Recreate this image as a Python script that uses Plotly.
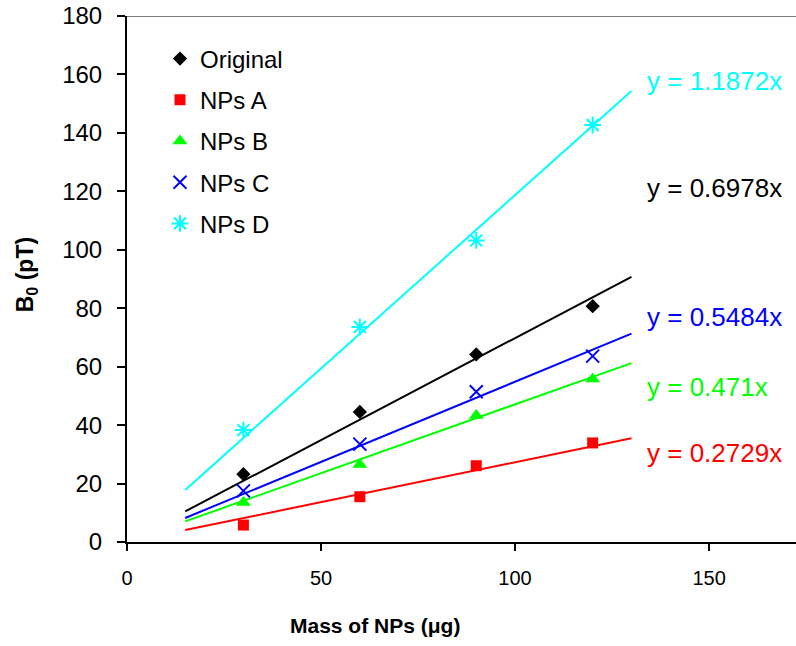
import plotly.graph_objects as go

mass = [30, 60, 90, 120]
series_names = ["Original", "NPs A", "NPs B", "NPs C", "NPs D"]
original = [23.2, 44.5, 64.2, 80.7]
nps_a = [5.8, 15.5, 26.1, 33.9]
nps_b = [13.5, 26.5, 43.3, 55.8]
nps_c = [17.5, 33.5, 51.4, 63.6]
nps_d = [38.3, 73.6, 103.2, 142.7]
slopes = [0.6978, 0.2729, 0.471, 0.5484, 1.1872]
fit_x = [15, 130]
x_ticks = [0, 50, 100, 150]
y_ticks = [0, 20, 40, 60, 80, 100, 120, 140, 160, 180]

values = [original, nps_a, nps_b, nps_c, nps_d]
colors = ["#000000", "#FF0000", "#00FF00", "#0000FF", "#00FFFF"]
symbols = ["diamond", "square", "triangle-up", "x-thin-open", "asterisk-open"]
sizes = [11, 11, 13, 13, 14]
eq_y = [121.0, 30.4, 53.0, 76.9, 157.9]

fig = go.Figure()
for name, vals, col, sym, sz, k in zip(series_names, values, colors, symbols, sizes, slopes):
    fig.add_trace(go.Scatter(
        x=fit_x, y=[k * v for v in fit_x], mode="lines",
        line=dict(color=col, width=2), showlegend=False, hoverinfo="skip",
        legendgroup=name))
for name, vals, col, sym, sz in zip(series_names, values, colors, symbols, sizes):
    fig.add_trace(go.Scatter(
        x=mass, y=vals, mode="markers", name=name, legendgroup=name,
        marker=dict(symbol=sym, size=sz, color=col,
                    line=dict(color=col, width=2 if "open" in sym else 0))))

for k, col, yy in zip(slopes, colors, eq_y):
    fig.add_annotation(x=133.5, y=yy, xref="x", yref="y", text=f"y = {k}x",
                       showarrow=False, xanchor="left", yanchor="middle",
                       font=dict(family="Liberation Sans, Arial", size=26, color=col))

fig.add_annotation(x=(375 - 127) / 669, y=-0.158, xref="paper", yref="paper",
                   text="<b>Mass of NPs (μg)</b>", showarrow=False,
                   xanchor="center", yanchor="middle",
                   font=dict(family="Liberation Sans, Arial", size=21, color="black"))
fig.add_annotation(x=(26 - 127) / 669, y=1 - (275 - 15.5) / 526.5, xref="paper", yref="paper",
                   text="<b>B<sub>0</sub> (pT)</b>", showarrow=False, textangle=-90,
                   xanchor="center", yanchor="middle",
                   font=dict(family="Liberation Sans, Arial", size=23, color="black"))

fig.add_shape(type="line", xref="paper", yref="y", x0=0, x1=1, y0=180, y1=180,
              line=dict(color="#555555", width=1.5))

fig.update_layout(
    width=796, height=646,
    margin=dict(l=127, r=0, t=15.5, b=104),
    paper_bgcolor="white", plot_bgcolor="white",
    font=dict(family="Liberation Sans, Arial", color="black"),
    showlegend=True,
    legend=dict(x=(160 - 127) / 669, y=1 - (36 - 15.5) / 526.5, xanchor="left", yanchor="top",
                font=dict(size=24, color="black"), bgcolor="rgba(0,0,0,0)",
                tracegroupgap=7, itemsizing="trace"),
    xaxis=dict(range=[0, 172.4], tickvals=x_ticks, ticks="outside", ticklen=7,
               tickwidth=1.5, tickcolor="black", showline=True, linecolor="black",
               linewidth=2, showgrid=False, zeroline=False,
               tickfont=dict(size=20), ticklabelstandoff=10),
    yaxis=dict(range=[0, 180], tickvals=y_ticks, ticks="outside", ticklen=8,
               tickwidth=1.5, tickcolor="black", showline=True, linecolor="black",
               linewidth=2, showgrid=False, zeroline=False,
               tickfont=dict(size=24), ticklabelstandoff=10),
)

fig.write_html("out.html")
